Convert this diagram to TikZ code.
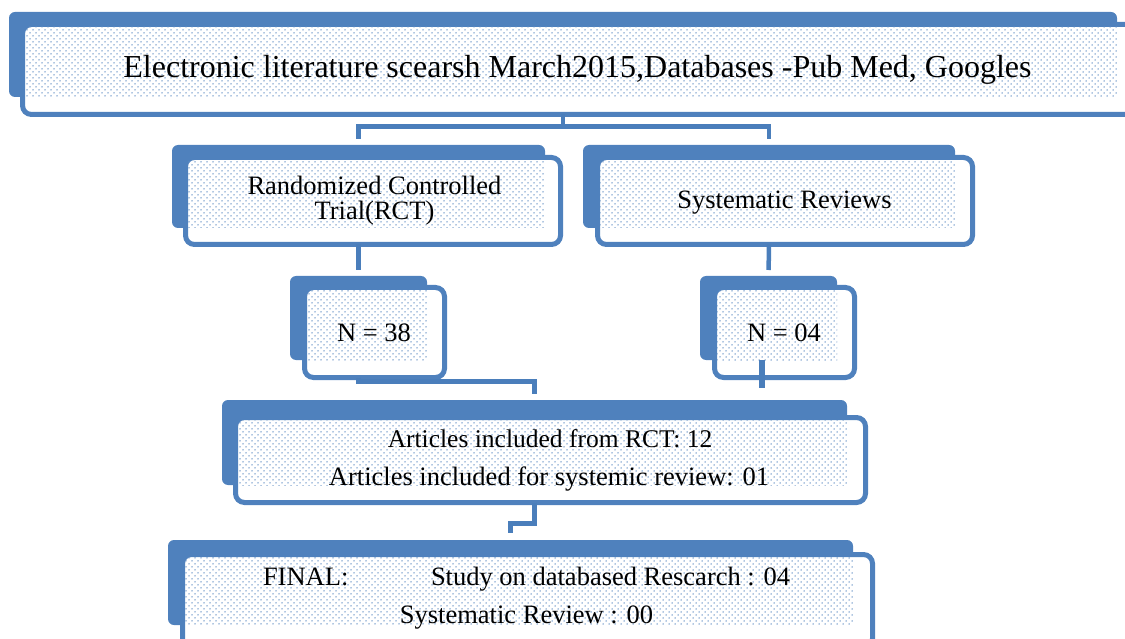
\documentclass[tikz,border=0pt]{standalone}
\usepackage{fontspec}
\setmainfont{Liberation Serif}
\usetikzlibrary{patterns,calc}
\definecolor{boxblue}{HTML}{4F81BD}
\definecolor{connblue}{HTML}{4A7EBB}
\pgfdeclarepatternformonly{sparsedots}{\pgfqpoint{-1pt}{-1pt}}{\pgfqpoint{5pt}{5pt}}{\pgfqpoint{6pt}{6pt}}{%
  \pgfpathcircle{\pgfqpoint{0pt}{0pt}}{0.75pt}%
  \pgfpathcircle{\pgfqpoint{3pt}{3pt}}{0.75pt}%
  \pgfusepath{fill}}
\tikzset{
  backbox/.style={rectangle, fill=boxblue, draw=none, rounded corners=6pt, inner sep=0pt, outer sep=0pt},
  frontbox/.style={rectangle, fill=white, draw=boxblue, line width=5pt, rounded corners=9pt, inner sep=0pt, outer sep=0pt},
  dotfill/.style={pattern=sparsedots, pattern color=boxblue!90},
  conn/.style={draw=connblue, line width=4.5pt, shorten >=6pt},
  txt/.style={inner sep=0pt, outer sep=0pt, font=\fontsize{26.5}{30}\selectfont},
  bigtxt/.style={inner sep=0pt, outer sep=0pt, font=\fontsize{32}{36}\selectfont},
}
% #1 name, #2-#5 back box (x1,y1,x2,y2), #6-#9 front box outer (x1,y1,x2,y2)
\newcommand\boxpair[9]{%
  \pgfmathsetmacro\bw{#4-#2}\pgfmathsetmacro\bh{#5-#3}%
  \pgfmathsetmacro\bcx{(#2+#4)/2}\pgfmathsetmacro\bcy{(#3+#5)/2}%
  \pgfmathsetmacro\fw{#8-#6-5}\pgfmathsetmacro\fh{#9-#7-5}%
  \pgfmathsetmacro\fcx{(#6+#8)/2}\pgfmathsetmacro\fcy{(#7+#9)/2}%
  \node[backbox, minimum width=\bw pt, minimum height=\bh pt] (#1b) at (\bcx,\bcy) {};
  \node[frontbox, minimum width=\fw pt, minimum height=\fh pt] (#1) at (\fcx,\fcy) {};
  \fill[dotfill] ([shift={(2.5,2.5)}]#1.north west) rectangle (#1b.south east);
}
\begin{document}
\begin{tikzpicture}[x=1pt,y=-1pt]
\useasboundingbox (0,0) rectangle (1125,639);
\begin{scope}
\clip (0,0) rectangle (1125,639);
\boxpair{top}{9}{12}{1117}{97}{20}{22}{1150}{117}
\boxpair{rct}{172}{145}{545}{228}{183}{155}{563}{247}
\boxpair{sr}{583}{145}{955}{228}{595}{155}{975}{247}
\boxpair{nrct}{290}{276}{427}{360}{302}{285}{447}{380}
\boxpair{nsr}{700}{276}{837}{360}{712}{285}{857}{380}
\boxpair{art}{222}{400}{847}{485}{233}{415}{868}{505}
\boxpair{fin}{168}{540}{853}{625}{180}{552}{875}{650}

% connectors
\draw[conn] (topb |- top.south) -- ++(0,12) -| (rctb.north);
\draw[conn] (topb |- top.south) -- ++(0,12) -| (srb.north);
\draw[conn] (rctb |- rct.south) -- (nrctb.north);
\draw[conn] (srb |- sr.south) -- (nsrb.north);
\draw[conn] (nrctb |- nrct.south) -- ++(0,4) -| (artb.north);
\coordinate (nsrend) at ([xshift=-6.5pt, yshift=-28pt]nsrb.south);
\draw[draw=connblue, line width=6pt] ([xshift=-6.5pt]nsrb.south) -- (nsrend);
\draw[conn, shorten >=7pt] (artb |- art.south) -- ++(0,21) -| (finb.north);

% texts
\node[bigtxt, anchor=base] (toptext) at (577.5,78) {Electronic literature scearsh March2015,Databases -Pub Med, Googles};
\node[txt, anchor=base] (rct1) at (374.5,195) {Randomized Controlled};
\node[txt, anchor=base] (rct2) at (374.5,220) {Trial(RCT)};
\node[txt, anchor=base] (srtext) at (784.5,209) {Systematic Reviews};
\node[txt, anchor=base] (nrcttext) at (374,341) {N = 38};
\node[txt, anchor=base] (nsrtext) at (784,341) {N = 04};
\node[txt, anchor=base, font=\fontsize{25.5}{30}\selectfont] (art1) at (550,447) {Articles included from RCT: 12};
\node[txt, anchor=base] (art2) at (549,485) {Articles included for systemic review: 01};
\node[txt, anchor=base west] (fin1a) at (263,585) {FINAL:};
\node[txt, anchor=base west] (fin1b) at (431,585) {Study on databased Rescarch : 04};
\node[txt, anchor=base] (fin2) at (526.5,623) {Systematic Review : 00};
\end{scope}
\end{tikzpicture}
\end{document}
